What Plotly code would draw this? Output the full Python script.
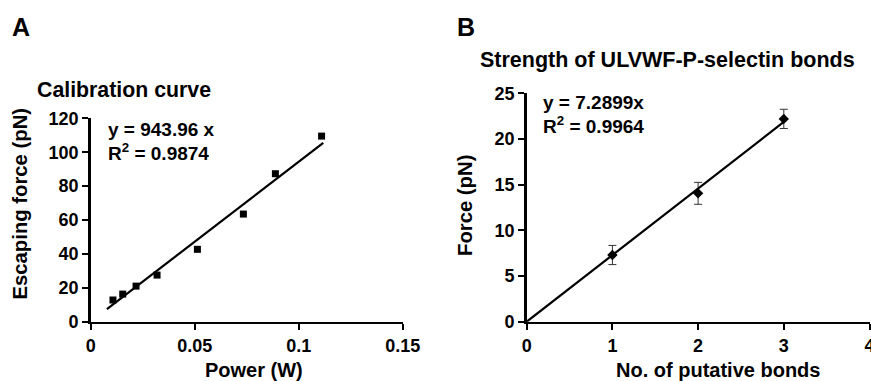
import plotly.graph_objects as go

# ---- Data ----
power_w = [0.0107, 0.0154, 0.0218, 0.0319, 0.0513, 0.0734, 0.0888, 0.111]
escaping_force = [12.8, 16.3, 21.0, 27.5, 42.7, 63.5, 87.3, 109.5]
slope_a = 943.96
fit_a_x = [0.0078, 0.1118]

bonds = [1, 2, 3]
force_pn = [7.3, 14.05, 22.2]
force_err = [1.05, 1.2, 1.05]
slope_b = 7.2899
fit_b_x = [0, 3]

x_ticks_a = [0, 0.05, 0.1, 0.15]
x_ticklabels_a = ["0", "0.05", "0.1", "0.15"]
y_ticks_a = [0, 20, 40, 60, 80, 100, 120]
x_ticks_b = [0, 1, 2, 3, 4]
y_ticks_b = [0, 5, 10, 15, 20, 25]

W, H = 871, 381
FONT = "Liberation Sans, Arial, sans-serif"

def px(x):
    return x / W

def py(y):
    return 1 - y / H

fig = go.Figure()

# Panel A
fig.add_trace(go.Scatter(
    x=power_w, y=escaping_force, mode="markers",
    marker=dict(symbol="square", size=7, color="black"),
    xaxis="x", yaxis="y", showlegend=False, cliponaxis=False))
fig.add_trace(go.Scatter(
    x=fit_a_x, y=[slope_a * v for v in fit_a_x], mode="lines",
    line=dict(color="black", width=2.2),
    xaxis="x", yaxis="y", showlegend=False))

# Panel B
fig.add_trace(go.Scatter(
    x=bonds, y=force_pn, mode="markers",
    marker=dict(symbol="diamond", size=8, color="black"),
    error_y=dict(type="data", array=force_err, visible=True,
                 color="#333333", thickness=1, width=4),
    xaxis="x2", yaxis="y2", showlegend=False, cliponaxis=False))
fig.add_trace(go.Scatter(
    x=fit_b_x, y=[slope_b * v for v in fit_b_x], mode="lines",
    line=dict(color="black", width=2.2),
    xaxis="x2", yaxis="y2", showlegend=False, cliponaxis=False))

axis_common = dict(
    showgrid=False, zeroline=False, showline=True, linecolor="black",
    linewidth=2.5, ticks="outside", ticklen=6, tickwidth=2, tickcolor="black",
    tickfont=dict(family=FONT, size=18, color="black", weight="bold"),
    automargin=False, fixedrange=True, ticklabeloverflow="allow",
)

fig.update_layout(
    width=W, height=H,
    margin=dict(l=0, r=0, t=0, b=0),
    paper_bgcolor="white", plot_bgcolor="white",
    font=dict(family=FONT, color="black"),
    xaxis=dict(domain=[px(90.7), px(402.7)], range=[0, 0.15],
               tickvals=x_ticks_a, ticktext=x_ticklabels_a,
               anchor="y", **axis_common),
    yaxis=dict(domain=[py(321.7), py(118.3)], range=[0, 120],
               tickvals=y_ticks_a, anchor="x", **axis_common),
    xaxis2=dict(domain=[px(526.7), px(869.5)], range=[0, 4],
                tickvals=x_ticks_b, anchor="y2", **axis_common),
    yaxis2=dict(domain=[py(321.7), py(93.3)], range=[0, 25],
                tickvals=y_ticks_b, anchor="x2", **axis_common),
)

def ann(text, x, y, size, xanchor="center", yanchor="middle", angle=0):
    fig.add_annotation(
        text=text, x=px(x), y=py(y), xref="paper", yref="paper",
        xanchor=xanchor, yanchor=yanchor, showarrow=False, textangle=angle,
        font=dict(family=FONT, size=size, color="black", weight="bold"))

# Panel labels and titles
ann("A", 10, 27, 25, xanchor="left")
ann("B", 455, 27, 25, xanchor="left")
ann("Calibration curve", 35, 89.5, 21.3, xanchor="left")
ann("Strength of ULVWF-P-selectin bonds", 478, 60, 21.5, xanchor="left")

# Equations
ann("y = 943.96 x", 106, 129, 19, xanchor="left")
ann("R<sup>2</sup> = 0.9874", 106, 152, 19, xanchor="left")
ann("y = 7.2899x", 541, 102.5, 19, xanchor="left")
ann("R<sup>2</sup> = 0.9964", 541, 125, 19, xanchor="left")

# Axis titles
ann("Escaping force (pN)", 19.5, 204, 20.3, angle=-90)
ann("Power (W)", 254, 370, 20)
ann("Force (pN)", 465, 205, 20.3, angle=-90)
ann("No. of putative bonds", 718, 370, 20)

fig.write_html("out.html",
               config={"displayModeBar": False, "staticPlot": True},
               post_script="document.body.style.margin='0';"
                           "document.body.style.overflow='hidden';")
